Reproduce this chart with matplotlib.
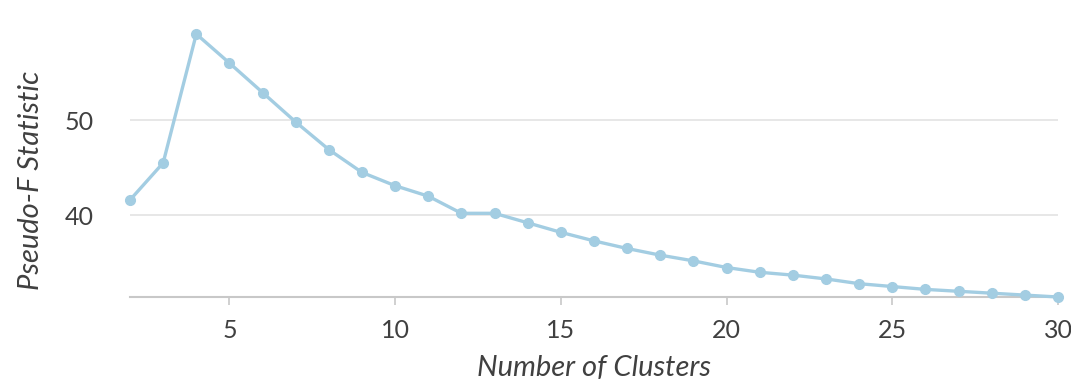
import matplotlib
matplotlib.use("Agg")
import matplotlib.pyplot as plt

clusters = list(range(2, 31))
pseudo_f = [41.6, 45.5, 59.05, 56.0, 52.9, 49.8, 46.9, 44.5, 43.1, 42.0,
            40.2, 40.2, 39.2, 38.2, 37.3, 36.5, 35.8, 35.2, 34.5, 34.0,
            33.7, 33.3, 32.8, 32.5, 32.2, 32.0, 31.8, 31.6, 31.4]
xticks = [5, 10, 15, 20, 25, 30]
yticks = [40, 50]

plt.rcParams["font.family"] = ["Lato", "DejaVu Sans"]
txt = "#404040"
line_c = "#a3cde2"

fig = plt.figure(figsize=(10.71, 3.87), dpi=100)
ax = fig.add_axes([130/1071, 1 - 297/387, 928/1071, 272/387])

ax.plot(clusters, pseudo_f, color=line_c, lw=2.4, marker="o", ms=7,
        markerfacecolor=line_c, markeredgecolor=line_c, zorder=3, clip_on=False)

ax.set_xlim(2, 30)
ax.set_ylim(31.4, 60)
ax.set_xticks(xticks)
ax.set_yticks(yticks)
ax.grid(axis="y", color="#e3e3e3", lw=1.2)
for s in ["top", "right", "left"]:
    ax.spines[s].set_visible(False)
ax.spines["bottom"].set_color("#c8c8c8")
ax.spines["bottom"].set_linewidth(1.5)
ax.tick_params(axis="x", length=6, width=1.2, color="#c8c8c8", labelsize=18,
               labelcolor=txt, pad=10)
ax.tick_params(axis="y", length=0, labelsize=18, labelcolor=txt, pad=26)

ax.set_xlabel("Number of Clusters", fontsize=21, style="italic", color=txt, labelpad=9)
ax.set_ylabel("Pseudo-F Statistic", fontsize=21, style="italic", color=txt)
ax.yaxis.set_label_coords(-0.093, 0.43)

fig.savefig("out.png", dpi=100)
